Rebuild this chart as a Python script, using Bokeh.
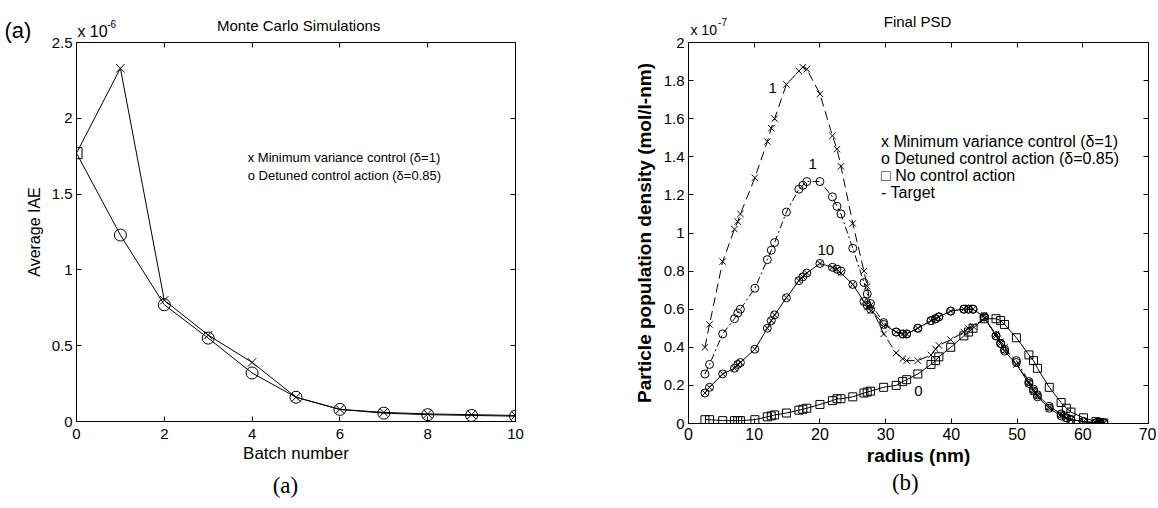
from bokeh.plotting import figure
from bokeh.models import Label, LinearAxis, FixedTicker, CustomJSTickFormatter, Range1d
from bokeh.layouts import row
from bokeh.embed import file_html
from bokeh.resources import INLINE

# ---------------- data: panel (a) ----------------
batch = [0, 1, 2, 3, 4, 5, 6, 7, 8, 9, 10]
iae_mv = [1.77, 2.33, 0.80, 0.57, 0.39, 0.16, 0.08, 0.06, 0.05, 0.045, 0.04]
iae_det = [1.77, 1.23, 0.77, 0.55, 0.32, 0.16, 0.08, 0.055, 0.045, 0.04, 0.035]
iae_nc_batch = [0]
iae_nc = [1.77]
a_xticks = [0, 2, 4, 6, 8, 10]
a_yticks = [0, 0.5, 1, 1.5, 2, 2.5]

# ---------------- data: panel (b) ----------------
radius = [2.5, 3.2, 5.2, 7.0, 7.5, 7.9, 10.1, 12.0, 12.6, 13.1, 14.9, 16.8, 17.4, 18.0,
          20.0, 21.9, 22.6, 23.2, 25.0, 26.7, 27.2, 27.7, 29.7, 31.6, 32.6, 33.2, 34.9,
          36.9, 37.6, 38.1, 39.9, 41.9, 42.6, 43.3, 45.0, 46.8, 47.5, 48.1, 49.9, 51.8,
          52.5, 53.1, 54.9, 56.7, 57.5, 58.2, 60.1, 62.0, 62.6, 63.2]
psd_mv1 = [0.40, 0.52, 0.85, 1.02, 1.06, 1.10, 1.29, 1.48, 1.55, 1.60, 1.78, 1.85, 1.87, 1.86,
           1.73, 1.51, 1.44, 1.35, 1.05, 0.80, 0.72, 0.62, 0.47, 0.37, 0.34, 0.33, 0.33,
           0.36, 0.39, 0.41, 0.44, 0.48, 0.50, 0.51, 0.55, 0.47, 0.43, 0.40, 0.31, 0.22,
           0.18, 0.15, 0.09, 0.05, 0.03, 0.02, 0.01, 0.005, 0.003, 0.002]
psd_det1 = [0.26, 0.31, 0.47, 0.55, 0.58, 0.60, 0.71, 0.86, 0.91, 0.95, 1.11, 1.23, 1.25, 1.27,
            1.27, 1.19, 1.14, 1.10, 0.92, 0.74, 0.68, 0.63, 0.53, 0.48, 0.47, 0.47, 0.50,
            0.54, 0.55, 0.56, 0.59, 0.60, 0.60, 0.60, 0.56, 0.46, 0.42, 0.39, 0.33, 0.22,
            0.18, 0.15, 0.09, 0.05, 0.03, 0.02, 0.01, 0.004, 0.003, 0.002]
psd_target = [0.16, 0.19, 0.26, 0.29, 0.31, 0.32, 0.39, 0.50, 0.54, 0.57, 0.66, 0.75, 0.77, 0.79,
              0.84, 0.82, 0.81, 0.79, 0.73, 0.64, 0.62, 0.60, 0.52, 0.48, 0.47, 0.47, 0.50,
              0.54, 0.55, 0.56, 0.59, 0.60, 0.60, 0.60, 0.56, 0.46, 0.42, 0.38, 0.31, 0.21,
              0.17, 0.14, 0.08, 0.04, 0.03, 0.02, 0.01, 0.003, 0.002, 0.001]
psd_mv10 = [0.16, 0.19, 0.26, 0.29, 0.31, 0.32, 0.39, 0.50, 0.54, 0.57, 0.66, 0.75, 0.77, 0.79,
            0.84, 0.82, 0.81, 0.79, 0.73, 0.64, 0.61, 0.59, 0.51, 0.48, 0.47, 0.47, 0.50,
            0.54, 0.55, 0.56, 0.59, 0.60, 0.61, 0.60, 0.57, 0.46, 0.42, 0.38, 0.31, 0.21,
            0.17, 0.14, 0.08, 0.04, 0.03, 0.02, 0.01, 0.003, 0.002, 0.001]
psd_det10 = [0.16, 0.19, 0.26, 0.29, 0.31, 0.32, 0.39, 0.50, 0.54, 0.57, 0.66, 0.75, 0.77, 0.79,
             0.84, 0.82, 0.81, 0.80, 0.73, 0.64, 0.62, 0.60, 0.52, 0.48, 0.47, 0.47, 0.50,
             0.54, 0.55, 0.56, 0.59, 0.60, 0.60, 0.60, 0.56, 0.46, 0.42, 0.38, 0.32, 0.21,
             0.17, 0.14, 0.08, 0.04, 0.03, 0.02, 0.01, 0.003, 0.002, 0.001]
psd_nc = [0.02, 0.02, 0.015, 0.015, 0.015, 0.015, 0.02, 0.035, 0.04, 0.045, 0.055, 0.07, 0.075, 0.08,
          0.10, 0.12, 0.13, 0.13, 0.14, 0.16, 0.165, 0.17, 0.19, 0.20, 0.22, 0.23, 0.26,
          0.31, 0.33, 0.35, 0.40, 0.46, 0.48, 0.50, 0.55, 0.55, 0.54, 0.52, 0.45, 0.36,
          0.33, 0.29, 0.19, 0.11, 0.08, 0.06, 0.03, 0.01, 0.005, 0.003]
b_xticks = [0, 10, 20, 30, 40, 50, 60, 70]
b_yticks = [0, 0.2, 0.4, 0.6, 0.8, 1.0, 1.2, 1.4, 1.6, 1.8, 2.0]

SANS = "Liberation Sans"
SERIF = "Liberation Serif"
FMT_CODE = "return String(Math.round(tick*100)/100);"


def style_axes(p, xt, yt, xlabel, ylabel, label_style, xtick_size, ytick_size, xlab_size,
               ylab_size, xstand):
    p.grid.visible = False
    p.outline_line_color = "black"
    p.outline_line_width = 1
    p.title.text = ""
    p.title.standoff = 0
    for ax, ticks, ts, ls in ((p.xaxis[0], xt, xtick_size, xlab_size),
                              (p.yaxis[0], yt, ytick_size, ylab_size)):
        ax.ticker = FixedTicker(ticks=ticks)
        ax.formatter = CustomJSTickFormatter(code=FMT_CODE)
        ax.major_tick_in = 5
        ax.major_tick_out = 0
        ax.minor_tick_line_color = None
        ax.axis_line_color = "black"
        ax.major_tick_line_color = "black"
        ax.major_label_text_font = SANS
        ax.major_label_text_font_size = ts
        ax.major_label_text_color = "black"
        ax.axis_label_text_font = SANS
        ax.axis_label_text_font_size = ls
        ax.axis_label_text_font_style = label_style
        ax.axis_label_text_color = "black"
    p.xaxis[0].axis_label = xlabel
    p.yaxis[0].axis_label = ylabel
    p.xaxis[0].major_label_standoff = xstand
    p.xaxis[0].axis_label_standoff = 2
    p.yaxis[0].major_label_standoff = 4
    p.yaxis[0].axis_label_standoff = 6
    for loc, ticks in (("right", yt), ("above", xt)):
        ax = LinearAxis(ticker=FixedTicker(ticks=ticks),
                        formatter=CustomJSTickFormatter(code="return '';"),
                        major_tick_in=5, major_tick_out=0, minor_tick_line_color=None,
                        axis_line_color=None, major_label_standoff=0,
                        major_tick_line_color="black")
        p.add_layout(ax, loc)


def txt(p, x, y, text, size="14px", font=SANS, align="left", baseline="middle",
        style="normal", place="center"):
    p.add_layout(Label(x=x, y=y, text=text, text_font=font, text_font_size=size,
                       text_align=align, text_baseline=baseline, text_color="black",
                       text_font_style=style), place)


# ---------------- panel (a) ----------------
p1 = figure(frame_width=439, frame_height=379, min_border_left=76, min_border_right=74,
            min_border_top=42, min_border_bottom=84, x_range=Range1d(0, 10),
            y_range=Range1d(0, 2.5), output_backend="svg", toolbar_location=None)
style_axes(p1, a_xticks, a_yticks, "Batch number", "Average IAE", "normal",
           "15px", "15px", "17px", "16px", 7)
p1.line(batch, iae_mv, line_color="black", line_width=1)
p1.line(batch, iae_det, line_color="black", line_width=1)
p1.scatter(batch[1:], iae_mv[1:], marker="x", size=12, line_color="black", line_width=1)
p1.scatter(batch[1:], iae_det[1:], marker="circle", size=12, line_color="black",
           fill_color=None, line_width=1)
p1.scatter(iae_nc_batch, iae_nc, marker="square", size=11, line_color="black",
           fill_color=None, line_width=1)

# texts outside the frame live in side panels (not clipped)
txt(p1, 5.06, 2.612, "Monte Carlo Simulations", size="15px", align="center", place="above")
txt(p1, 0.02, 2.573, "x 10", size="16px", place="right")
txt(p1, 0.70, 2.625, "-6", size="10px", place="right")
txt(p1, -1.64, 2.579, "(a)", size="22px", place="right")
txt(p1, 4.76, -0.42, "(a)", size="23px", font=SERIF, align="center", place="below")
txt(p1, 3.9, 1.74, "x Minimum variance control (\u03b4=1)", size="13px")
txt(p1, 3.9, 1.62, "o Detuned control action (\u03b4=0.85)", size="13px")

# ---------------- panel (b) ----------------
p2 = figure(frame_width=460, frame_height=381, min_border_left=99, min_border_right=8,
            min_border_top=41, min_border_bottom=83, x_range=Range1d(0, 70),
            y_range=Range1d(0, 2), output_backend="svg", toolbar_location=None)
style_axes(p2, b_xticks, b_yticks, "radius (nm)", "Particle population density (mol/l-nm)",
           "bold", "16px", "15px", "19px", "19px", 4)

p2.line(radius, psd_target, line_color="black", line_width=1)
p2.line(radius, psd_nc, line_color="black", line_width=1)
p2.line(radius, psd_mv1, line_color="black", line_width=1, line_dash="9 5")
p2.line(radius, psd_det1, line_color="black", line_width=1, line_dash="7 3 2 3")
p2.scatter(radius, psd_nc, marker="square", size=8, line_color="black", fill_color=None)
p2.scatter(radius, psd_det10, marker="circle", size=8, line_color="black", fill_color=None)
p2.scatter(radius, psd_mv10, marker="x", size=8, line_color="black")
p2.scatter(radius, psd_det1, marker="circle", size=8, line_color="black", fill_color=None)
p2.scatter(radius, psd_mv1, marker="x", size=9, line_color="black")

txt(p2, 34.85, 2.11, "Final PSD", size="15px", align="center", place="above")
txt(p2, 0.3, 2.068, "x 10", size="14px", place="left")
txt(p2, 4.5, 2.105, "-7", size="10px", place="left")
txt(p2, 33.0, -0.31, "(b)", size="23px", font=SERIF, align="center", place="below")
txt(p2, 12.8, 1.76, "1", size="15px", align="center")
txt(p2, 18.9, 1.36, "1", size="15px", align="center")
txt(p2, 20.9, 0.91, "10", size="15px", align="center")
txt(p2, 35.0, 0.17, "0", size="15px", align="center")
txt(p2, 29.3, 1.48, "x Minimum variance control (\u03b4=1)", size="16px")
txt(p2, 29.3, 1.39, "o Detuned control action (\u03b4=0.85)", size="16px")
txt(p2, 29.3, 1.30, "\u25a1 No control action", size="16px")
txt(p2, 29.3, 1.21, "-  Target", size="16px")

layout = row(p1, p2)
open("out.html", "w").write(file_html(layout, INLINE))
